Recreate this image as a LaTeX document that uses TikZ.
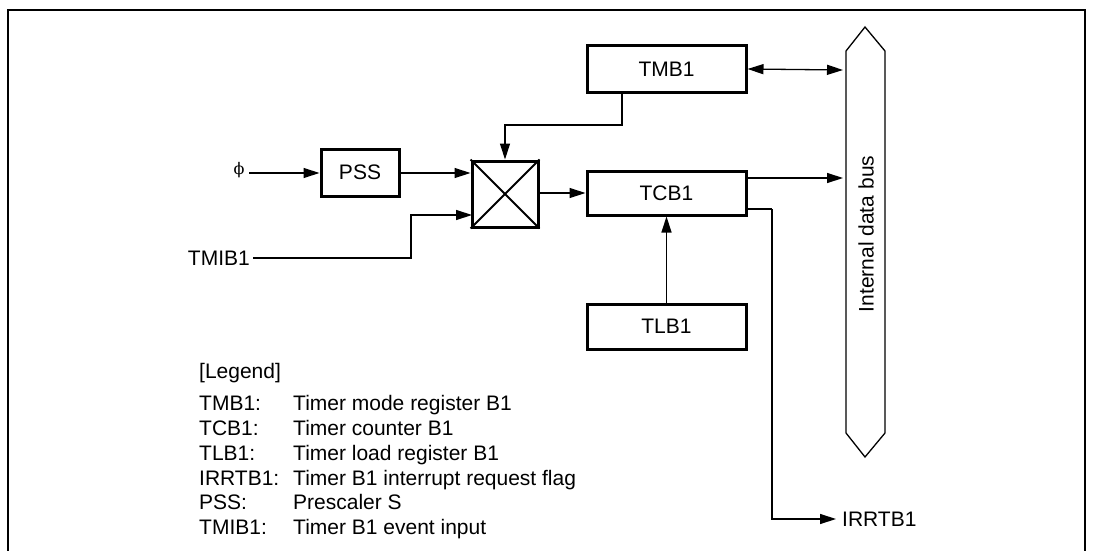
\documentclass[tikz,border=0pt]{standalone}
\usepackage{fontspec}
\setmainfont{Liberation Sans}
\newfontfamily\phifont{DejaVu Serif}
\usetikzlibrary{arrows.meta,calc}
\begin{document}
\begin{tikzpicture}[x=1pt,y=-1pt,
  font=\fontsize{21}{25}\selectfont,
  reg/.style={draw,line width=3pt,minimum width=159pt,inner sep=0pt},
  conn/.style={line width=1.3pt},
  arr/.style={conn,-{Triangle[length=16pt,width=10pt]}},
  darr/.style={conn,{Triangle[length=16pt,width=10pt]}-{Triangle[length=16pt,width=10pt]}},
  lbl/.style={anchor=base west,inner sep=0pt}]
\useasboundingbox (0,0) rectangle (1095,551);
% frame
\draw[line width=2.7pt] (8,551) -- (8,10) -- (1085,10) -- (1085,551);
% registers
\node[reg,minimum height=46pt] (tmb) at (666.5,69) {TMB1};
\node[reg,minimum height=44pt] (tcb) at (666.5,193) {TCB1};
\node[reg,minimum height=45pt] (tlb) at (666.5,326.5) {TLB1};
\node[reg,minimum width=78pt,minimum height=47pt] (pss) at (360,172.5) {PSS};
\node[draw,line width=3pt,minimum width=66pt,minimum height=66pt,inner sep=0pt] (mux) at (505,194) {};
\draw[line width=2pt] (mux.north west) -- (mux.south east) (mux.south west) -- (mux.north east);
% bus
\draw[line width=1.3pt] (846,51) -- (865,27) -- (885,51) -- (885,433) -- (865,457) -- (846,433) -- cycle;
\node[rotate=90] (busl) at (866,234) {Internal data bus};
% inputs / outputs
\node[inner sep=0pt,font=\phifont\fontsize{16}{18}\selectfont] (phi) at (239,170) {ϕ};
\node[inner sep=0pt,anchor=east] (tmib) at (250,258) {TMIB1};
\node[inner sep=0pt,anchor=west] (irr) at (842,519) {IRRTB1};
% helper coordinates
\coordinate (k1) at (622,125);
\coordinate (k2) at (411,258);
\coordinate (m2) at (472,215);
\coordinate (b1) at (843,70);
\coordinate (b2) at (843,178);
\coordinate (k3) at (772,209);
\coordinate (p0) at (249,173);
% connectors
\draw[arr] (p0) -- (pss.west |- p0);
\draw[arr] (pss.east |- p0) -- (mux.west |- p0);
\draw[arr] (tmb.south -| k1) -- (k1) -| (mux.north);
\draw[arr] (tmib.east) ++(3,0) -- (k2) |- (m2);
\draw[arr] (mux.east |- tcb.west) -- (tcb.west);
\draw[darr] (tmb.east) -- (b1);
\draw[arr] (tcb.east |- b2) -- (b2);
\draw[conn] (tcb.east |- k3) -- (k3);
\draw[arr,shorten >=6pt] (k3) |- (irr.west);
\draw[arr] (tlb.north) -- (tcb.south);
% legend
\node[lbl] (lg) at (199,378.5) {[Legend]};
\node[lbl] (l1a) at (199,410.5) {TMB1:};   \node[lbl] (l1b) at (293,410.5) {Timer mode register B1};
\node[lbl] (l2a) at (199,435.5) {TCB1:};   \node[lbl] (l2b) at (293,435.5) {Timer counter B1};
\node[lbl] (l3a) at (199,460) {TLB1:};   \node[lbl] (l3b) at (293,460) {Timer load register B1};
\node[lbl] (l4a) at (199,485) {IRRTB1:}; \node[lbl] (l4b) at (293,485) {Timer B1 interrupt request flag};
\node[lbl] (l5a) at (199,509.5) {PSS:};    \node[lbl] (l5b) at (293,509.5) {Prescaler S};
\node[lbl] (l6a) at (199,534.5) {TMIB1:};  \node[lbl] (l6b) at (293,534.5) {Timer B1 event input};
\end{tikzpicture}
\end{document}
